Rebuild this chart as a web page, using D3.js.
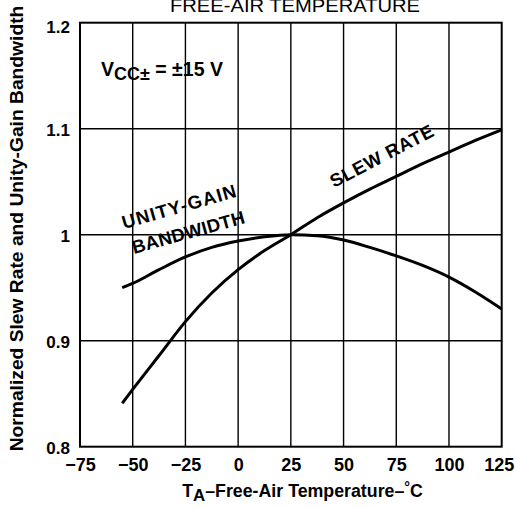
<!DOCTYPE html>
<html>
<head>
<meta charset="utf-8">
<script src="https://cdn.jsdelivr.net/npm/d3@7"></script>
<style>
  html, body { margin: 0; padding: 0; background: #fff; }
  svg { display: block; }
  text { font-family: "Liberation Sans", Arial, sans-serif; fill: #000; }
</style>
</head>
<body>
<svg id="chart" width="516" height="507"></svg>
<script>
// ---- data ----
const temps = [-55, -50, -37.5, -25, -12.5, 0, 12.5, 25, 37.5, 50, 62.5, 75, 87.5, 100, 112.5, 125];
const slewRate = [0.841, 0.854, 0.886, 0.918, 0.945, 0.967, 0.985, 1.000, 1.016, 1.030, 1.043, 1.055, 1.067, 1.078, 1.089, 1.099];
const unityGainBW = [0.950, 0.954, 0.967, 0.979, 0.988, 0.994, 0.998, 1.000, 0.999, 0.995, 0.988, 0.980, 0.971, 0.960, 0.946, 0.930];
const xTicks = [-75, -50, -25, 0, 25, 50, 75, 100, 125];
const yTicks = [0.8, 0.9, 1.0, 1.1, 1.2];
const yTickLabels = ["0.8", "0.9", "1", "1.1", "1.2"];

const svg = d3.select("#chart");
const x = d3.scaleLinear().domain([-75, 125]).range([80, 501.7]);
const y = d3.scaleLinear().domain([0.8, 1.2]).range([446.7, 22.7]);

function fit(sel, target) {
  const len = sel.node().getComputedTextLength();
  const fs = parseFloat(sel.attr("font-size"));
  sel.attr("font-size", fs * target / len);
  return sel;
}

// grid
const grid = svg.append("g");
grid.selectAll(".vg").data(xTicks.slice(1, -1)).enter().append("line")
  .attr("x1", d => x(d)).attr("x2", d => x(d))
  .attr("y1", y(1.2)).attr("y2", y(0.8))
  .attr("stroke", "#000").attr("stroke-width", 1.4);
grid.selectAll(".hg").data(yTicks.slice(1, -1)).enter().append("line")
  .attr("x1", x(-75)).attr("x2", x(125))
  .attr("y1", d => y(d)).attr("y2", d => y(d))
  .attr("stroke", "#000").attr("stroke-width", 1.4);
svg.append("rect")
  .attr("x", x(-75)).attr("y", y(1.2))
  .attr("width", x(125) - x(-75)).attr("height", y(0.8) - y(1.2))
  .attr("fill", "none").attr("stroke", "#000").attr("stroke-width", 2);

// axes labels via d3 axes (no lines)
const xAxis = svg.append("g").attr("transform", `translate(0,${y(0.8)})`)
  .call(d3.axisBottom(x).tickValues(xTicks).tickSize(0)
    .tickFormat(d => (d < 0 ? "\u2212" + Math.abs(d) : String(d))));
xAxis.select(".domain").remove();
xAxis.selectAll("text").attr("font-family", "Liberation Sans").attr("font-weight", "bold")
  .attr("font-size", 18).attr("fill", "#000").attr("y", 24).attr("dy", 0)
  .attr("dx", d => (d === 125 ? -3 : 0));

const yAxis = svg.append("g").attr("transform", `translate(${x(-75)},0)`)
  .call(d3.axisLeft(y).tickValues(yTicks).tickSize(0).tickPadding(10)
    .tickFormat((d, i) => yTickLabels[i]));
yAxis.select(".domain").remove();
yAxis.selectAll("text").attr("font-family", "Liberation Sans").attr("font-weight", "bold")
  .attr("font-size", 17).attr("fill", "#000").attr("dy", "0.35em")
  .attr("transform", d => `translate(0,${d === 1.2 ? 3.5 : 1})`);

// curves
const line = d3.line().x(d => x(d[0])).y(d => y(d[1])).curve(d3.curveMonotoneX);
svg.append("path").datum(temps.map((t, i) => [t, slewRate[i]]))
  .attr("d", line).attr("fill", "none").attr("stroke", "#000").attr("stroke-width", 3);
svg.append("path").datum(temps.map((t, i) => [t, unityGainBW[i]]))
  .attr("d", line).attr("fill", "none").attr("stroke", "#000").attr("stroke-width", 3);

// curve labels (same font size, spaced to the reference's lengths)
function label(txt, px, py, ang, len) {
  svg.append("text").attr("transform", `translate(${px},${py}) rotate(${ang})`)
    .attr("font-weight", "bold").attr("font-size", 18.5)
    .attr("textLength", len).attr("lengthAdjust", "spacing").text(txt);
}
label("UNITY-GAIN", 124, 229, -16, 118);
label("BANDWIDTH", 134, 254, -15.5, 116);
label("SLEW RATE", 334, 188, -27.5, 114);

// VCC annotation
const vcc = svg.append("text").attr("x", 101).attr("y", 75.5)
  .attr("font-weight", "bold").attr("font-size", 16);
vcc.append("tspan").text("V");
vcc.append("tspan").attr("dy", "0.25em").attr("font-size", "0.92em").text("CC\u00B1");
vcc.append("tspan").attr("dy", "-0.23em").text(" = \u00B115 V");
fit(vcc, 122);

// x-axis title
const xt = svg.append("text").attr("x", 302.5).attr("y", 497)
  .attr("text-anchor", "middle").attr("font-weight", "bold").attr("font-size", 17);
xt.append("tspan").text("T");
xt.append("tspan").attr("dy", "0.22em").attr("font-size", "0.95em").text("A");
xt.append("tspan").attr("dy", "-0.21em").text("\u2013Free-Air Temperature\u2013");
xt.append("tspan").attr("dy", "-0.35em").attr("font-size", "0.8em").text("\u00B0");
xt.append("tspan").attr("dy", "0.28em").text("C");
fit(xt, 241);

// y-axis title
const yt = svg.append("text").attr("transform", "translate(23,228.5) rotate(-90)")
  .attr("text-anchor", "middle").attr("font-weight", "bold").attr("font-size", 16)
  .text("Normalized Slew Rate and Unity-Gain Bandwidth");
fit(yt, 446);

// top (cut-off) title
svg.append("text").attr("x", 295).attr("y", 12)
  .attr("text-anchor", "middle").attr("font-family", "Liberation Sans")
  .attr("font-size", 19).attr("textLength", 250).attr("lengthAdjust", "spacingAndGlyphs")
  .text("FREE-AIR TEMPERATURE");
</script>
</body>
</html>
